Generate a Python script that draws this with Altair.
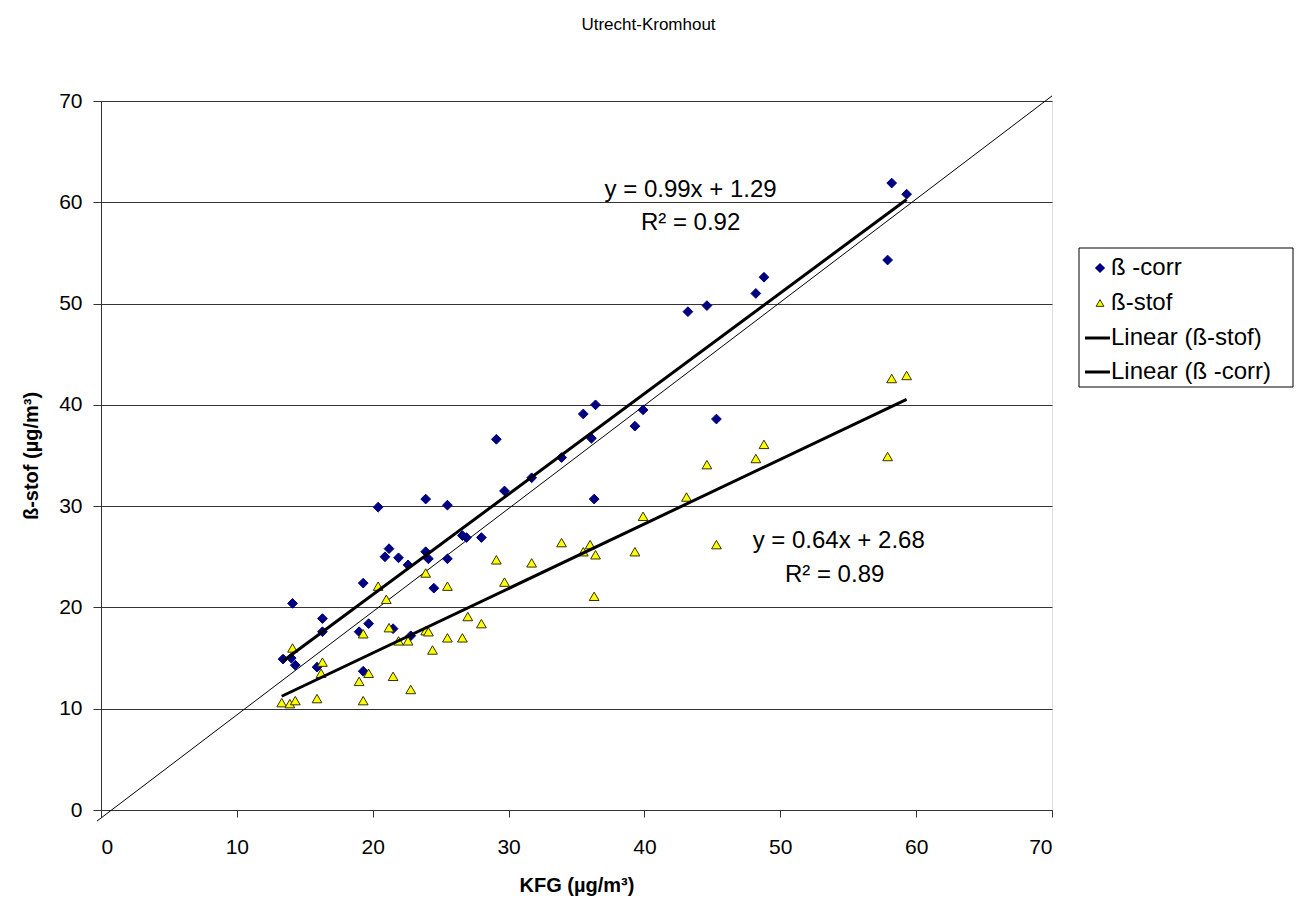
import altair as alt
import pandas as pd

# ---- data ----
corr_kfg = [13.4, 14.0, 14.3, 14.1, 16.3, 16.3, 15.9, 19.3, 19.0, 19.7, 19.3, 20.4, 20.9, 21.2, 21.9,
            22.6, 21.5, 22.8, 23.9, 23.9, 24.1, 24.5, 25.5, 25.5, 26.6, 26.9, 28.0, 29.1, 29.7, 31.7,
            33.9, 35.5, 36.1, 36.3, 36.4, 39.3, 39.9, 43.2, 44.6, 45.3, 48.2, 48.8, 57.9, 58.2, 59.3]
corr_val = [14.9, 15.0, 14.3, 20.4, 18.9, 17.6, 14.1, 22.4, 17.6, 18.4, 13.7, 29.9, 25.0, 25.8, 24.9,
            24.2, 17.9, 17.2, 30.7, 25.5, 24.8, 21.9, 30.1, 24.8, 27.1, 26.9, 26.9, 36.6, 31.5, 32.8,
            34.8, 39.1, 36.7, 30.7, 40.0, 37.9, 39.5, 49.2, 49.8, 38.6, 51.0, 52.6, 54.3, 61.9, 60.8]

stof_kfg = [13.3, 13.9, 14.3, 14.1, 16.3, 16.2, 15.9, 19.0, 19.3, 19.7, 19.3, 20.4, 21.0, 21.2, 21.5,
            21.9, 22.6, 22.8, 23.9, 23.9, 24.1, 24.4, 25.5, 25.5, 26.6, 27.0, 28.0, 29.1, 29.7, 31.7,
            33.9, 35.5, 36.0, 36.3, 36.4, 39.3, 39.9, 43.1, 44.6, 45.3, 48.2, 48.8, 57.9, 58.2, 59.3]
stof_val = [10.6, 10.5, 10.8, 16.0, 14.6, 13.5, 11.0, 12.7, 17.4, 13.5, 10.8, 22.1, 20.8, 18.0, 13.2,
            16.7, 16.7, 11.9, 23.4, 17.7, 17.6, 15.8, 22.1, 17.0, 17.0, 19.1, 18.4, 24.7, 22.5, 24.4,
            26.4, 25.5, 26.2, 21.1, 25.2, 25.5, 29.0, 30.9, 34.1, 26.2, 34.7, 36.1, 34.9, 42.6, 42.9]

ref_x = [-0.3, 70.0]
ref_y = [-1.1, 70.5]

ann_text = ["y = 0.99x + 1.29", "R² = 0.92", "y = 0.64x + 2.68", "R² = 0.89"]
ann_x = [43.4, 43.4, 54.3, 54.0]
ann_y = [61.2, 58.0, 26.6, 23.2]

legend_labels = ["ß -corr", "ß-stof", "Linear (ß-stof)", "Linear (ß -corr)"]

# ---- tables ----
pts = pd.DataFrame({
    "KFG": corr_kfg + stof_kfg,
    "value": corr_val + stof_val,
    "series": ["ß -corr"] * len(corr_kfg) + ["ß-stof"] * len(stof_kfg),
})
ref = pd.DataFrame({"KFG": ref_x, "value": ref_y})
ann = pd.DataFrame({"KFG": ann_x, "value": ann_y, "text": ann_text})

FONT = "Liberation Sans"
TICK_FS = 21
TITLE_FS = 20

shape_s = alt.Scale(domain=legend_labels[:2], range=["diamond", "triangle-up"])
fill_s = alt.Scale(domain=legend_labels[:2], range=["#000080", "#FFFF00"])
stroke_s = alt.Scale(domain=legend_labels[:2], range=["#000080", "#333300"])

x_enc = alt.X("KFG:Q", scale=alt.Scale(domain=[0, 70], nice=False),
              axis=alt.Axis(values=list(range(0, 71, 10)), title="KFG (µg/m³)", grid=False,
                            tickSize=7, labelPadding=19, titlePadding=18,
                            labelFontSize=TICK_FS, titleFontSize=TITLE_FS, titleFontWeight="bold",
                            labelFont=FONT, titleFont=FONT, labelColor="black", titleColor="black",
                            domainColor="#333333", tickColor="#333333"))
y_enc = alt.Y("value:Q", scale=alt.Scale(domain=[0, 70], nice=False),
              axis=alt.Axis(values=list(range(0, 71, 10)), title="ß-stof (µg/m³)", grid=True,
                            gridColor="#333333", gridWidth=1,
                            tickSize=8, labelPadding=11, titlePadding=17,
                            labelFontSize=TICK_FS, titleFontSize=TITLE_FS, titleFontWeight="bold",
                            labelFont=FONT, titleFont=FONT, labelColor="black", titleColor="black",
                            domainColor="#333333", tickColor="#333333"))

diag = alt.Chart(ref).mark_line(color="black", strokeWidth=1, clip=False).encode(
    x="KFG:Q", y="value:Q")

points = alt.Chart(pts).mark_point(filled=True, opacity=1, size=95, strokeWidth=1).encode(
    x=x_enc, y=y_enc,
    shape=alt.Shape("series:N", scale=shape_s, legend=None),
    fill=alt.Fill("series:N", scale=fill_s, legend=None),
    stroke=alt.Stroke("series:N", scale=stroke_s, legend=None),
)

lines = alt.Chart(pts).transform_regression(
    "KFG", "value", groupby=["series"]
).mark_line(color="black", strokeWidth=3).encode(
    x="KFG:Q", y="value:Q", detail="series:N",
)

texts = alt.Chart(ann).mark_text(fontSize=24, font=FONT, color="black",
                                 align="center", baseline="middle").encode(
    x="KFG:Q", y="value:Q", text="text:N")

# ---- legend (drawn as decoration to the right of the plot) ----
one = pd.DataFrame({"k": [0]})
LEG_FS = 24
row_y = [167, 202, 237, 271]
leg_box = alt.Chart(one).mark_rect(fill="white", stroke="black", strokeWidth=1, clip=False).encode(
    x=alt.value(978), x2=alt.value(1192), y=alt.value(147), y2=alt.value(286))
leg_layers = [leg_box]
leg_layers.append(alt.Chart(one).mark_point(shape="diamond", filled=True, fill="#000080",
                                            stroke="#000080", size=55, opacity=1, clip=False).encode(
    x=alt.value(999), y=alt.value(row_y[0])))
leg_layers.append(alt.Chart(one).mark_point(shape="triangle-up", filled=True, fill="#FFFF00",
                                            stroke="#333300", strokeWidth=1, size=60, opacity=1,
                                            clip=False).encode(
    x=alt.value(999), y=alt.value(row_y[1])))
for r in (2, 3):
    leg_layers.append(alt.Chart(one).mark_rule(color="black", strokeWidth=3, clip=False).encode(
        x=alt.value(984), x2=alt.value(1009), y=alt.value(row_y[r])))
for r in range(4):
    leg_layers.append(alt.Chart(pd.DataFrame({"t": [legend_labels[r]]})).mark_text(
        align="left", baseline="middle", fontSize=LEG_FS, font=FONT, color="black", clip=False
    ).encode(x=alt.value(1010), y=alt.value(row_y[r]), text="t:N"))

chart = alt.layer(diag, points, lines, texts, *leg_layers).properties(
    width=951, height=709,
    padding={"left": 101, "top": 101, "right": 245, "bottom": 98},
    autosize=alt.AutoSizeParams(type="none"),
    title=alt.TitleParams("Utrecht-Kromhout", anchor="middle", dx=72, offset=56,
                          fontSize=17, font=FONT, fontWeight="normal", color="black"),
).configure_view(stroke=None).configure(background="white")

chart.save("out.html", embed_options={"renderer": "svg", "actions": False})
